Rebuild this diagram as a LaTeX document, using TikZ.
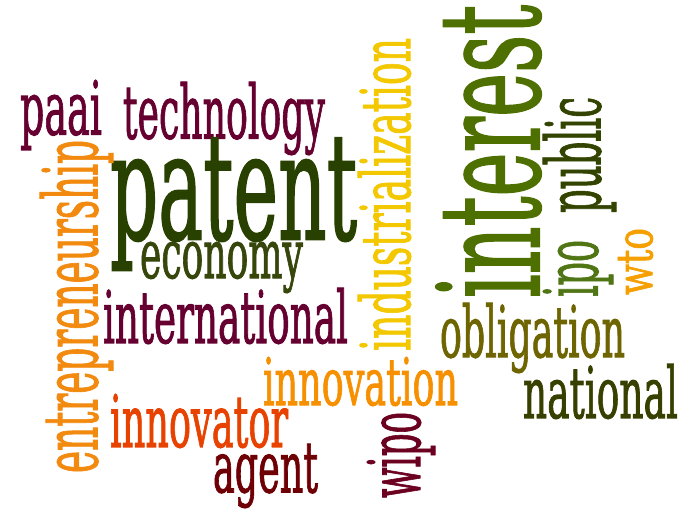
\documentclass[tikz,border=0pt]{standalone}
\usepackage{fontspec}
\setmainfont{DejaVu Serif}[FakeBold=1.6,AutoFakeBold=1.6]
\usepackage{graphicx}
\definecolor{cMaroon}{HTML}{660030}
\definecolor{cPatent}{HTML}{284000}
\definecolor{cEconomy}{HTML}{37470B}
\definecolor{cEntre}{HTML}{F28A10}
\definecolor{cIndus}{HTML}{F3C800}
\definecolor{cInterest}{HTML}{4E7000}
\definecolor{cPublic}{HTML}{324400}
\definecolor{cIpo}{HTML}{507515}
\definecolor{cWto}{HTML}{F5A000}
\definecolor{cOblig}{HTML}{6E6400}
\definecolor{cNational}{HTML}{384000}
\definecolor{cInnovation}{HTML}{F79000}
\definecolor{cInnovator}{HTML}{E84200}
\definecolor{cAgent}{HTML}{6E0005}
\definecolor{cWipo}{HTML}{6B0020}
\newcommand\hword[3]{\resizebox*{#1pt}{#2pt}{#3}}
\newcommand\vword[3]{\rotatebox{90}{\resizebox*{#1pt}{#2pt}{#3}}}
\tikzset{word/.style={inner sep=0pt, outer sep=0pt, anchor=center, font=\bfseries}}
\begin{document}
\begin{tikzpicture}[x=1pt,y=-1pt]
\fill[white] (0,0) rectangle (686,513);
\useasboundingbox (0,0) rectangle (686,513);
% horizontal words
\node[word, text=cMaroon] (paai) at (61,115) {\hword{82}{70}{paai}};
\node[word, text=cMaroon] (technology) at (224,118.5) {\hword{202}{73}{technology}};
\node[word, text=cPatent] (patent) at (233.5,204) {\hword{247}{132}{patent}};
\node[word, text=cEconomy] (economy) at (221.5,267.5) {\hword{163}{51}{economy}};
\node[word, text=cMaroon] (international) at (225.5,316) {\hword{245}{56}{international}};
\node[word, text=cInnovation] (innovation) at (360.5,381.5) {\hword{195}{49}{innovation}};
\node[word, text=cInnovator] (innovator) at (199,421) {\hword{178}{54}{innovator}};
\node[word, text=cAgent] (agent) at (265.5,476) {\hword{105}{64}{agent}};
\node[word, text=cOblig] (obligation) at (532.5,338) {\hword{185}{70}{obligation}};
\node[word, text=cNational] (national) at (600.5,391.5) {\hword{155}{55}{national}};
% vertical words
\node[word, text=cEntre] (entrepreneurship) at (76.5,306.5) {\vword{333}{73}{entrepreneurship}};
\node[word, text=cIndus] (industrialization) at (384.5,194.5) {\vword{313}{53}{industrialization}};
\node[word, text=cInterest] (interest) at (488.5,151.5) {\vword{293}{105}{interest}};
\node[word, text=cPublic] (public) at (579.5,155) {\vword{116}{73}{public}};
\node[word, text=cIpo] (ipo) at (578,268.5) {\vword{57}{70}{ipo}};
\node[word, text=cWto] (wto) at (635.5,261.5) {\vword{67}{35}{wto}};
\node[word, text=cWipo] (wipo) at (401,455) {\vword{86}{68}{wipo}};
\end{tikzpicture}
\end{document}
